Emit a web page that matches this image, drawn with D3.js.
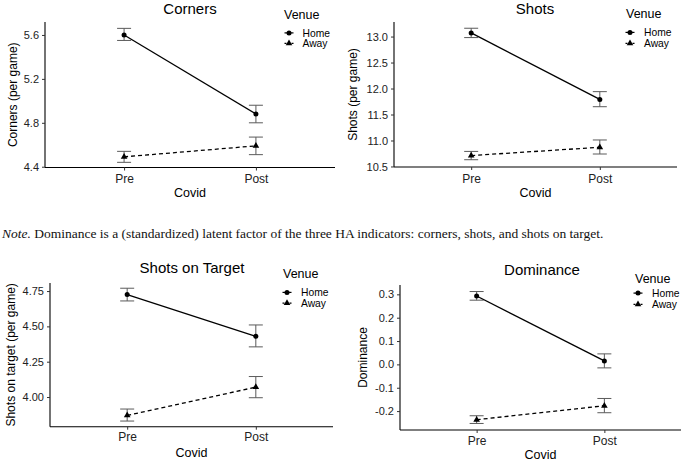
<!DOCTYPE html>
<html><head><meta charset="utf-8">
<script src="https://cdn.jsdelivr.net/npm/d3@7"></script>
<style>body{margin:0;background:#fff}svg{display:block}</style>
</head><body>
<svg id="c" width="688" height="462"></svg>
<script>
// ---- data ----
const covid = ["Pre", "Post"];
const venues = ["Home", "Away"];

const cornersHome = [5.60, 4.88], cornersHomeLo = [5.55, 4.80], cornersHomeHi = [5.66, 4.96];
const cornersAway = [4.49, 4.59], cornersAwayLo = [4.44, 4.51], cornersAwayHi = [4.54, 4.67];
const cornersTicks = [4.4, 4.8, 5.2, 5.6];

const shotsHome = [13.07, 11.79], shotsHomeLo = [12.98, 11.65], shotsHomeHi = [13.16, 11.94];
const shotsAway = [10.71, 10.87], shotsAwayLo = [10.63, 10.74], shotsAwayHi = [10.79, 11.01];
const shotsTicks = [10.5, 11.0, 11.5, 12.0, 12.5, 13.0];

const sotHome = [4.725, 4.43], sotHomeLo = [4.68, 4.355], sotHomeHi = [4.77, 4.51];
const sotAway = [3.87, 4.07], sotAwayLo = [3.83, 3.995], sotAwayHi = [3.915, 4.145];
const sotTicks = [4.00, 4.25, 4.50, 4.75];

const domHome = [0.293, 0.015], domHomeLo = [0.275, -0.015], domHomeHi = [0.312, 0.045];
const domAway = [-0.237, -0.177], domAwayLo = [-0.253, -0.207], domAwayHi = [-0.220, -0.146];
const domTicks = [-0.2, -0.1, 0.0, 0.1, 0.2, 0.3];

const noteText = " Dominance is a (standardized) latent factor of the three HA indicators: corners, shots, and shots on target.";

// ---- layout ----
const panels = [
  {title: "Corners", ylab: "Corners (per game)", fmt: ".1f", ticks: cornersTicks,
   home: [cornersHome, cornersHomeLo, cornersHomeHi], away: [cornersAway, cornersAwayLo, cornersAwayHi],
   x0: 45, x1: 335, yTop: 22, yBot: 167.5, dom: [4.393, 5.718],
   titleX: 190, titleY: 14, ylabX: 17, xtickY: 182.5, xlabY: 196.5,
   leg: {vx: 284, vy: 19, mx: 289, tx: 302.5, y1: 36.5, y2: 47}},
  {title: "Shots", ylab: "Shots (per game)", fmt: ".1f", ticks: shotsTicks,
   home: [shotsHome, shotsHomeLo, shotsHomeHi], away: [shotsAway, shotsAwayLo, shotsAwayHi],
   x0: 394, x1: 677, yTop: 22, yBot: 167, dom: [10.49, 13.28],
   titleX: 535, titleY: 13.5, ylabX: 357, xtickY: 182.5, xlabY: 196.5,
   leg: {vx: 626, vy: 18, mx: 630, tx: 644, y1: 36, y2: 47}},
  {title: "Shots on Target", ylab: "Shots on target (per game)", fmt: ".2f", ticks: sotTicks,
   home: [sotHome, sotHomeLo, sotHomeHi], away: [sotAway, sotAwayLo, sotAwayHi],
   x0: 50, x1: 333, yTop: 283, yBot: 426.7, dom: [3.79, 4.807],
   titleX: 192, titleY: 272.5, ylabX: 15, xtickY: 441.5, xlabY: 456.5,
   leg: {vx: 283, vy: 278, mx: 287, tx: 301, y1: 296, y2: 306.7}},
  {title: "Dominance", ylab: "Dominance", fmt: ".1f", ticks: domTicks,
   home: [domHome, domHomeLo, domHomeHi], away: [domAway, domAwayLo, domAwayHi],
   x0: 400, x1: 681, yTop: 285, yBot: 430, dom: [-0.281, 0.34],
   titleX: 542, titleY: 275, ylabX: 367, xtickY: 445, xlabY: 459,
   leg: {vx: 635, vy: 282.7, mx: 638, tx: 652, y1: 296.7, y2: 308}}
];

const svg = d3.select("#c");
const font = "'Liberation Sans', Arial, Helvetica, sans-serif";
const ebColor = "#5a5a5a";

function marker(g, shape, x, y) {
  if (shape === "circle") {
    g.append("circle").attr("cx", x).attr("cy", y).attr("r", 2.5).attr("fill", "#000");
  } else {
    g.append("path").attr("d", d3.symbol(d3.symbolTriangle, 19)()).attr("transform", `translate(${x},${y})`).attr("fill", "#000");
  }
}

panels.forEach(p => {
  const g = svg.append("g");
  const x = d3.scalePoint().domain(covid).range([p.x0, p.x1]).padding(0.6);
  const y = d3.scaleLinear().domain(p.dom).range([p.yBot, p.yTop]);
  const fmt = v => d3.format(p.fmt)(v).replace("\u2212", "-");

  // y axis
  const ya = g.append("g").attr("transform", `translate(${p.x0},0)`)
    .call(d3.axisLeft(y).tickValues(p.ticks).tickFormat(fmt).tickSize(3).tickPadding(3).tickSizeOuter(0));
  ya.select(".domain").attr("d", `M0,${p.yTop}V${p.yBot}`).attr("stroke", "#000").attr("stroke-width", 1.1);
  ya.selectAll(".tick line").attr("stroke", "#333");
  ya.selectAll(".tick text").attr("font-family", font).attr("font-size", 11).attr("fill", "#222");
  // x axis
  const xa = g.append("g").attr("transform", `translate(0,${p.yBot})`)
    .call(d3.axisBottom(x).tickSize(3).tickPadding(3).tickSizeOuter(0));
  xa.select(".domain").attr("d", `M${p.x0},0H${p.x1}`).attr("stroke", "#000").attr("stroke-width", 1.1);
  xa.selectAll(".tick line").attr("stroke", "#333");
  xa.selectAll(".tick text").attr("font-family", font).attr("font-size", 12).attr("fill", "#222")
    .attr("dy", null).attr("y", p.xtickY - p.yBot);

  // titles
  g.append("text").attr("x", p.titleX).attr("y", p.titleY).attr("text-anchor", "middle")
    .attr("font-family", font).attr("font-size", 15).text(p.title);
  g.append("text").attr("x", (p.x0 + p.x1) / 2).attr("y", p.xlabY).attr("text-anchor", "middle")
    .attr("font-family", font).attr("font-size", 12.5).text("Covid");
  g.append("text").attr("transform", `translate(${p.ylabX},${(p.yTop + p.yBot) / 2}) rotate(-90)`)
    .attr("text-anchor", "middle").attr("font-family", font).attr("font-size", 12).text(p.ylab);

  // series
  const series = [
    {name: venues[0], d: p.home, dash: null, shape: "circle"},
    {name: venues[1], d: p.away, dash: "4,3", shape: "tri"}
  ];
  series.forEach(s => {
    const pts = covid.map((c, i) => ({c, m: s.d[0][i], lo: s.d[1][i], hi: s.d[2][i]}));
    pts.forEach(d => {
      const cx = x(d.c), hw = 7;
      g.append("path")
        .attr("d", `M${cx - hw},${y(d.hi)}H${cx + hw}M${cx},${y(d.hi)}V${y(d.lo)}M${cx - hw},${y(d.lo)}H${cx + hw}`)
        .attr("stroke", ebColor).attr("stroke-width", 1).attr("fill", "none");
    });
    g.append("path").datum(pts)
      .attr("d", d3.line().x(d => x(d.c)).y(d => y(d.m)))
      .attr("stroke", "#000").attr("stroke-width", 1.3).attr("fill", "none")
      .attr("stroke-dasharray", s.dash);
    pts.forEach(d => marker(g, s.shape, x(d.c), y(d.m)));
  });

  // legend
  const L = p.leg;
  g.append("text").attr("x", L.vx).attr("y", L.vy).attr("font-family", font).attr("font-size", 12.5).text("Venue");
  [[L.y1, series[0]], [L.y2, series[1]]].forEach(([ly, s]) => {
    const cy = ly - 3.6;
    g.append("path").attr("d", `M${L.mx - 4.5},${cy}H${L.mx + 4.5}`).attr("stroke", "#000")
      .attr("stroke-width", 1.2).attr("stroke-dasharray", s.dash ? "2,1.5" : null);
    marker(g, s.shape, L.mx, cy);
    g.append("text").attr("x", L.tx).attr("y", ly).attr("font-family", font).attr("font-size", 10.3).text(s.name);
  });
});

// note
const note = svg.append("text").attr("x", 2).attr("y", 237.5)
  .attr("font-family", "'Liberation Serif', 'Times New Roman', serif").attr("font-size", 12).attr("fill", "#111");
note.append("tspan").attr("font-style", "italic").text("Note.");
note.append("tspan").text(noteText);
const w = note.node().getComputedTextLength();
note.attr("font-size", 12 * 602 / w);
</script>
</body></html>
